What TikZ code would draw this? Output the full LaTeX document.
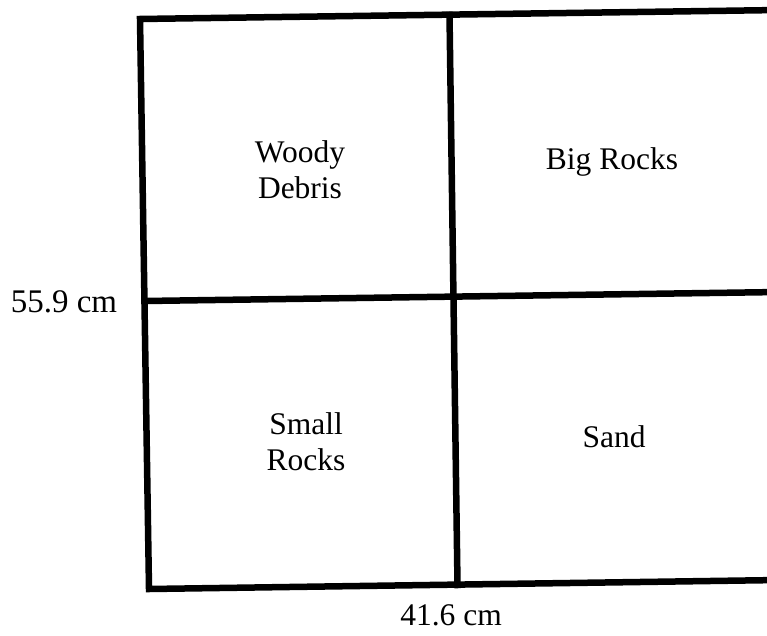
\documentclass[tikz,border=0pt]{standalone}
\usepackage{fontspec}
\setmainfont{Liberation Serif}
\begin{document}
\begin{tikzpicture}[x=1pt,y=-1pt,
  wall/.style={line width=6.5pt,line cap=rect,line join=miter},
  lbl/.style={font=\fontsize{31.5}{36}\selectfont,align=center,inner sep=0pt}]
\useasboundingbox (0,0) rectangle (767,636);
\clip (0,0) rectangle (767,636);
\coordinate (tl) at (140,19);
\coordinate (tr) at (780,10);
\coordinate (bl) at (149,589);
\coordinate (br) at (780,580);
\coordinate (tm) at (449.5,15);
\coordinate (bm) at (457.5,585);
\coordinate (ml) at (144.5,301);
\coordinate (mr) at (780,292);
\draw[wall] (tr) -- (tl) -- (bl) -- (br);
\draw[wall] (tm) -- (bm);
\draw[wall] (ml) -- (mr);
\node[lbl] (wd) at (300,170) {Woody\\Debris};
\node[lbl] (br2) at (612,162) {Big Rocks};
\node[lbl] (sr) at (306,442) {Small\\Rocks};
\node[lbl] (sd) at (614,437) {Sand};
\node[lbl,font=\fontsize{33}{36}\selectfont] (h) at (64,302) {55.9 cm};
\node[lbl] (w) at (451,615) {41.6 cm};
\end{tikzpicture}
\end{document}
